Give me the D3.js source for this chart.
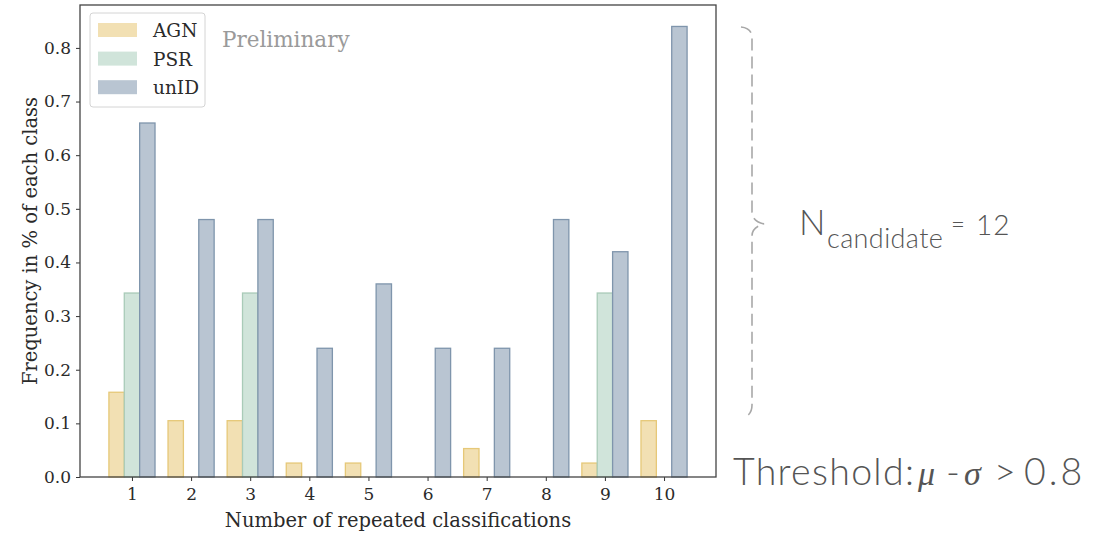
<!DOCTYPE html>
<html><head><meta charset="utf-8">
<script src="https://cdn.jsdelivr.net/npm/d3@7"></script>
<style>
body{margin:0;background:#fff;}
svg{display:block;}
</style></head>
<body>
<svg id="c" width="1099" height="536"></svg>
<script>
const categories = [1,2,3,4,5,6,7,8,9,10];
const seriesNames = ["AGN","PSR","unID"];
const agn  = [0.158,0.105,0.105,0.026,0.026,0,0.053,0,0.026,0.105];
const psr  = [0.343,0,0.343,0,0,0,0,0,0.343,0];
const unid = [0.66,0.48,0.48,0.24,0.36,0.24,0.24,0.48,0.42,0.84];
const yTicks = [0,0.1,0.2,0.3,0.4,0.5,0.6,0.7,0.8];
const fills  = ["#f2e0b3","#d0e4da","#b9c5d2"];
const edges  = ["#e6c878","#a9cbb8","#7f95ac"];
const series = [agn,psr,unid];

const serif = "'DejaVu Serif', serif";
const svg = d3.select("#c");
const m = {l:80, r:716, t:5, b:477};
const w = 0.26;
const lo = 1 - 1.5*w, hi = 10 + 1.5*w, pad = (hi-lo)*0.05;
const x = d3.scaleLinear().domain([lo-pad, hi+pad]).range([m.l, m.r]);
const y = d3.scaleLinear().domain([0, 0.88]).range([m.b, m.t]);

// bars
series.forEach((vals, si) => {
  svg.append("g").selectAll("rect").data(vals).join("rect")
    .attr("x", (d,i) => x(categories[i] + (si-1.5)*w))
    .attr("width", x(w) - x(0))
    .attr("y", d => y(d))
    .attr("height", d => y(0) - y(d))
    .attr("fill", fills[si])
    .attr("stroke", d => d > 0 ? edges[si] : "none")
    .attr("stroke-width", 1.3);
});

// axes
const xAxis = d3.axisBottom(x).tickValues(categories).tickFormat(d3.format("d")).tickSize(4).tickPadding(7);
const yAxis = d3.axisLeft(y).tickValues(yTicks).tickFormat(d3.format(".1f")).tickSize(4).tickPadding(5);
const gx = svg.append("g").attr("transform", `translate(0,${m.b})`).call(xAxis);
const gy = svg.append("g").attr("transform", `translate(${m.l},0)`).call(yAxis);
[gx,gy].forEach(g => {
  g.select(".domain").remove();
  g.selectAll(".tick line").attr("stroke","#333").attr("stroke-width",1);
  g.selectAll(".tick text").attr("fill","#2a2a2a").style("font-family",serif).style("font-size","17px");
});
// frame
svg.append("rect").attr("x",m.l).attr("y",m.t).attr("width",m.r-m.l).attr("height",m.b-m.t)
  .attr("fill","none").attr("stroke","#444").attr("stroke-width",1.3);

// axis labels
svg.append("text").attr("x",(m.l+m.r)/2).attr("y",527).attr("text-anchor","middle")
  .style("font-family",serif).style("font-size","19.5px").attr("fill","#2a2a2a")
  .text("Number of repeated classifications");
svg.append("text").attr("transform",`translate(37,241) rotate(-90)`).attr("text-anchor","middle")
  .style("font-family",serif).style("font-size","19.5px").attr("fill","#2a2a2a")
  .text("Frequency in % of each class");

// legend
const lg = svg.append("g");
lg.append("rect").attr("x",90).attr("y",13).attr("width",115).attr("height",94).attr("rx",3)
  .attr("fill","#fff").attr("stroke","#d4d4d4").attr("stroke-width",1);
seriesNames.forEach((n,i) => {
  lg.append("rect").attr("x",98).attr("y",23+i*28.6).attr("width",39).attr("height",14)
    .attr("fill",fills[i]);
  lg.append("text").attr("x",153).attr("y",37+i*28.6)
    .style("font-family",serif).style("font-size","18.5px").attr("fill","#2a2a2a").text(n);
});
svg.append("text").attr("x",222).attr("y",47).style("font-family",serif).style("font-size","21.5px")
  .attr("fill","#9a9a9a").text("Preliminary");

// brace
svg.append("path")
  .attr("d","M741,27 Q752,28 752,38 L752,212 Q752,221 764,224 Q752,227 752,236 L752,405 Q752,414 745,417")
  .attr("fill","none").attr("stroke","#a8a8a8").attr("stroke-width",1.6).attr("stroke-dasharray","12,6");

// annotations
const sans = "'Lato', 'Open Sans', sans-serif";
const g1 = svg.append("g").style("font-family",sans).style("font-weight",300).attr("fill","#555");
g1.append("text").attr("x",799).attr("y",235).style("font-size","35px").text("N");
g1.append("text").attr("x",827).attr("y",248).style("font-size","27px").style("letter-spacing","0.4px").text("candidate");
g1.append("text").attr("x",951).attr("y",233).style("font-size","24px").text("=");
g1.append("text").attr("x",976).attr("y",235).style("font-size","28px").style("letter-spacing","1px").text("12");

const g2 = svg.append("g").attr("fill","#555");
const lat = (t, xx) => g2.append("text").attr("x",xx).attr("y",485).style("font-family",sans).style("font-weight",300).style("font-size","37.5px").text(t);
const it = (t, xx) => g2.append("text").attr("x",xx).attr("y",485).style("font-family","'Liberation Serif', serif").style("font-style","italic").style("font-size","34px").text(t);
lat("Threshold:", 733).style("letter-spacing","1.3px");
it("μ", 918);
lat("-", 946);
it("σ", 964);
lat(">", 994);
lat("0.8", 1024).style("letter-spacing","3px");
</script>
</body></html>
